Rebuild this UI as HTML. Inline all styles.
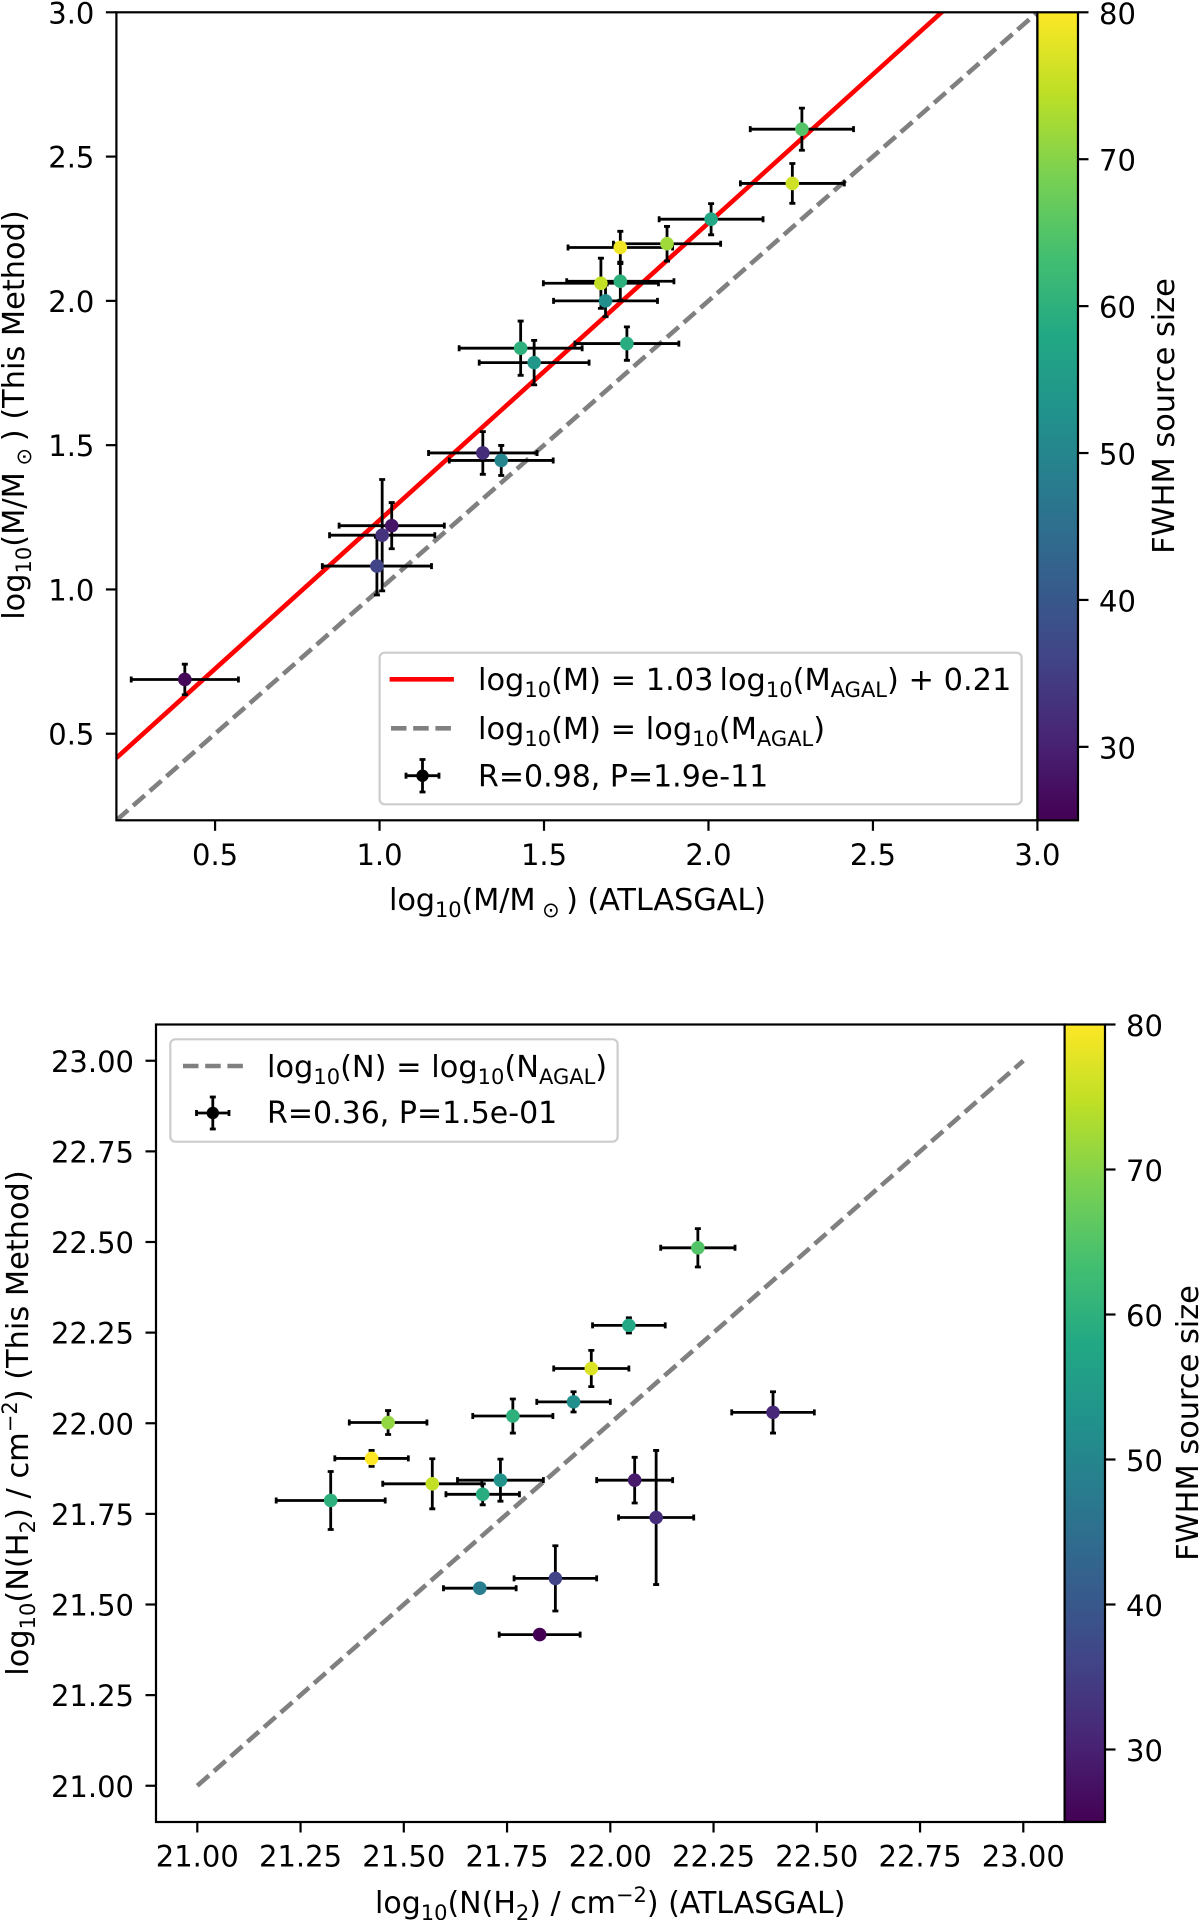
<!DOCTYPE html>
<html lang="en">
<head>
<meta charset="utf-8">
<title>Mass and column density comparison with ATLASGAL</title>
<style>
html,body{margin:0;padding:0;background:#fff;}
svg{display:block;}
text{font-family:"DejaVu Sans","Liberation Sans",sans-serif;font-size:29px;fill:#000;}
text.big{font-size:30.4px;}
text.mid{font-size:30px;}
</style>
</head>
<body>
<svg id="figure" xmlns="http://www.w3.org/2000/svg" width="1200" height="1920" viewBox="0 0 1200 1920">
  <defs>
    <clipPath id="clip-top"><rect x="116" y="12.3" width="921.4" height="808"/></clipPath>
    <clipPath id="clip-bottom"><rect x="156" y="1024.5" width="908.6" height="797.5"/></clipPath>
    <linearGradient id="viridis-gradient" x1="0" y1="1" x2="0" y2="0"></linearGradient>
  </defs>
  <rect x="0" y="0" width="1200" height="1920" fill="#fff"/>

  <g id="panel-top"></g>
  <g id="panel-bottom"></g>

  <!-- top panel titles -->
  <text class="big" x="389" y="910" textLength="377">log<tspan font-size="21" dy="7">10</tspan><tspan dy="-7">(M/M</tspan><tspan font-size="21" dy="7"> ⊙ </tspan><tspan dy="-7">) (ATLASGAL)</tspan></text>
  <text class="big" transform="translate(24,415) rotate(-90)" text-anchor="middle">log<tspan font-size="21" dy="7">10</tspan><tspan dy="-7">(M/M</tspan><tspan font-size="21" dy="7"> ⊙ </tspan><tspan dy="-7">) (This Method)</tspan></text>
  <text class="big" transform="translate(1174,416) rotate(-90)" text-anchor="middle">FWHM source size</text>

  <!-- top panel legend -->
  <g>
    <rect x="379.6" y="652.7" width="642" height="151.6" rx="5" fill="#fff" fill-opacity="0.8" stroke="#ccc" stroke-width="2.2"/>
    <line x1="389.6" y1="679.3" x2="453.9" y2="679.3" stroke="#f00" stroke-width="4.6"/>
    <line x1="391" y1="728.3" x2="453.9" y2="728.3" stroke="#808080" stroke-width="4.6" stroke-dasharray="15.5 6.7"/>
    <g stroke="#000" stroke-width="2.8">
      <line x1="406" y1="775.7" x2="439" y2="775.7"/><line x1="422.5" y1="759.5" x2="422.5" y2="792"/>
      <line x1="406" y1="772.7" x2="406" y2="778.7"/><line x1="439" y1="772.7" x2="439" y2="778.7"/>
      <line x1="419.5" y1="759.5" x2="425.5" y2="759.5"/><line x1="419.5" y1="792" x2="425.5" y2="792"/>
      <circle cx="422.5" cy="775.7" r="6.2" fill="#000" stroke="none"/>
    </g>
    <text class="big" x="478" y="690">log<tspan font-size="21" dy="7">10</tspan><tspan dy="-7">(M) = 1.03&#8201;log</tspan><tspan font-size="21" dy="7">10</tspan><tspan dy="-7">(M</tspan><tspan font-size="21" dy="7">AGAL</tspan><tspan dy="-7">) + 0.21</tspan></text>
    <text class="big" x="478" y="739">log<tspan font-size="21" dy="7">10</tspan><tspan dy="-7">(M) = log</tspan><tspan font-size="21" dy="7">10</tspan><tspan dy="-7">(M</tspan><tspan font-size="21" dy="7">AGAL</tspan><tspan dy="-7">)</tspan></text>
    <text class="mid" x="478" y="786.7">R=0.98, P=1.9e-11</text>
  </g>

  <!-- bottom panel titles -->
  <text class="mid" x="375" y="1913">log<tspan font-size="21" dy="7">10</tspan><tspan dy="-7">(N(H</tspan><tspan font-size="21" dy="7">2</tspan><tspan dy="-7">) / cm</tspan><tspan font-size="21" dy="-11">−2</tspan><tspan dy="11">) (ATLASGAL)</tspan></text>
  <text class="big" transform="translate(28,1423) rotate(-90)" text-anchor="middle">log<tspan font-size="21" dy="7">10</tspan><tspan dy="-7">(N(H</tspan><tspan font-size="21" dy="7">2</tspan><tspan dy="-7">) / cm</tspan><tspan font-size="21" dy="-11">−2</tspan><tspan dy="11">) (This Method)</tspan></text>
  <text class="big" transform="translate(1198,1423) rotate(-90)" text-anchor="middle">FWHM source size</text>

  <!-- bottom panel legend -->
  <g>
    <rect x="170.3" y="1039.3" width="447.3" height="102.4" rx="5" fill="#fff" fill-opacity="0.8" stroke="#ccc" stroke-width="2.2"/>
    <line x1="183" y1="1066" x2="243" y2="1066" stroke="#808080" stroke-width="4.6" stroke-dasharray="15.5 6.7"/>
    <g stroke="#000" stroke-width="2.8">
      <line x1="196.5" y1="1113" x2="229" y2="1113"/><line x1="212.8" y1="1097" x2="212.8" y2="1129"/>
      <line x1="196.5" y1="1110" x2="196.5" y2="1116"/><line x1="229" y1="1110" x2="229" y2="1116"/>
      <line x1="209.8" y1="1097" x2="215.8" y2="1097"/><line x1="209.8" y1="1129" x2="215.8" y2="1129"/>
      <circle cx="212.8" cy="1113" r="6.2" fill="#000" stroke="none"/>
    </g>
    <text class="big" x="267" y="1077">log<tspan font-size="21" dy="7">10</tspan><tspan dy="-7">(N) = log</tspan><tspan font-size="21" dy="7">10</tspan><tspan dy="-7">(N</tspan><tspan font-size="21" dy="7">AGAL</tspan><tspan dy="-7">)</tspan></text>
    <text class="mid" x="267" y="1123">R=0.36, P=1.5e-01</text>
  </g>
</svg>

<script>
// ---- top panel data: log10 mass ----
var massX    = [2.284,2.255,2.008,1.874,1.732,1.673,1.732,1.687,1.752,1.429,1.470,1.314,1.370,1.037,1.008,0.992,0.408];
var massY    = [2.595,2.407,2.283,2.198,2.185,2.061,2.068,2.000,1.852,1.836,1.786,1.473,1.447,1.221,1.188,1.081,0.688];
var massXErr = [0.157,0.158,0.158,0.163,0.159,0.175,0.163,0.158,0.158,0.187,0.167,0.165,0.158,0.160,0.160,0.166,0.163];
var massYErr = [0.073,0.069,0.054,0.060,0.056,0.087,0.066,0.055,0.058,0.094,0.077,0.074,0.052,0.080,0.193,0.100,0.053];
var massFwhm = [65,76,58,72,79,75,60,52,59,60,54,32,50,28,33,36,26];
var massTicks = ["0.5","1.0","1.5","2.0","2.5","3.0"];
var fitSlope = [1.03];
var fitIntercept = [0.21];
var massLineEnds = [0.2,3.0];

// ---- bottom panel data: log10 column density ----
var densX    = [22.212,22.045,21.954,21.911,21.764,21.462,22.394,21.422,21.569,21.734,21.691,21.323,22.059,22.111,21.684,21.867,21.829];
var densY    = [22.484,22.270,22.151,22.059,22.020,22.002,22.030,21.903,21.833,21.843,21.804,21.787,21.843,21.740,21.545,21.572,21.417];
var densXErr = [0.090,0.088,0.091,0.089,0.097,0.094,0.100,0.089,0.120,0.104,0.089,0.132,0.092,0.091,0.088,0.100,0.098];
var densYErr = [0.053,0.021,0.050,0.028,0.047,0.033,0.057,0.022,0.069,0.058,0.029,0.080,0.063,0.185,0.005,0.090,0.005];
var densFwhm = [65,58,77,52,60,71,31,80,75,53,59,60,29,32,48,36,25];
var densTicks = ["21.00","21.25","21.50","21.75","22.00","22.25","22.50","22.75","23.00"];
var densLineEnds = [21,23];

// ---- colorbar ----
var colorbarTicks = ["30","40","50","60","70","80"];
var colorbarRange = [25,80];
var viridisStops = ["#440154","#482475","#414487","#355f8d","#2a788e","#21918c","#22a884","#44bf70","#7ad151","#bddf26","#fde725"];

var NS = "http://www.w3.org/2000/svg";
function make(parent, tag, attrs, txt) {
  var el = document.createElementNS(NS, tag);
  for (var k in attrs) el.setAttribute(k, attrs[k]);
  if (txt !== undefined) el.textContent = txt;
  parent.appendChild(el);
  return el;
}
function hexToRgb(h) {
  return [parseInt(h.slice(1,3),16),parseInt(h.slice(3,5),16),parseInt(h.slice(5,7),16)];
}
function viridis(t) {
  t = Math.max(0, Math.min(1, t));
  var p = t * (viridisStops.length - 1), i = Math.min(Math.floor(p), viridisStops.length - 2), f = p - i;
  var a = hexToRgb(viridisStops[i]), b = hexToRgb(viridisStops[i + 1]);
  return "rgb(" + Math.round(a[0]+(b[0]-a[0])*f) + "," + Math.round(a[1]+(b[1]-a[1])*f) + "," + Math.round(a[2]+(b[2]-a[2])*f) + ")";
}
var gradient = document.getElementById("viridis-gradient");
viridisStops.forEach(function (c, i) {
  make(gradient, "stop", { offset: i / (viridisStops.length - 1), "stop-color": c });
});

function drawPanel(cfg) {
  var g = document.getElementById(cfg.groupId);
  var sx = function (v) { return cfg.left + (v - cfg.xlim[0]) / (cfg.xlim[1] - cfg.xlim[0]) * (cfg.right - cfg.left); };
  var sy = function (v) { return cfg.bottom - (v - cfg.ylim[0]) / (cfg.ylim[1] - cfg.ylim[0]) * (cfg.bottom - cfg.top); };
  var sc = function (v) { return cfg.bottom - (v - colorbarRange[0]) / (colorbarRange[1] - colorbarRange[0]) * (cfg.bottom - cfg.top); };
  var plot = make(g, "g", { "clip-path": "url(#" + cfg.clip + ")" });
  
  

  if (cfg.fit) {
    var x0 = cfg.lineEnds[0], x1 = cfg.lineEnds[1];
    var fitLine = make(plot, "line", {
      x1: sx(x0), y1: sy(fitSlope[0] * x0 + fitIntercept[0]),
      x2: sx(x1), y2: sy(fitSlope[0] * x1 + fitIntercept[0]),
      stroke: "#f00", "stroke-width": 4.6
    });
    
    
  }
  var eq = make(plot, "line", {
    x1: sx(cfg.lineEnds[0]), y1: sy(cfg.lineEnds[0]),
    x2: sx(cfg.lineEnds[1]), y2: sy(cfg.lineEnds[1]),
    stroke: "#808080", "stroke-width": 4.6, "stroke-dasharray": "15.5 6.7"
  });
  
  

  cfg.x.forEach(function (xv, i) {
    var px = sx(xv), py = sy(cfg.y[i]);
    var xa = sx(xv - cfg.xe[i]), xb = sx(xv + cfg.xe[i]);
    var ya = sy(cfg.y[i] - cfg.ye[i]), yb = sy(cfg.y[i] + cfg.ye[i]);
    var bar = make(plot, "path", {
      d: "M" + xa + " " + py + "H" + xb + "M" + px + " " + ya + "V" + yb +
         "M" + xa + " " + (py - 3) + "v6M" + xb + " " + (py - 3) + "v6" +
         "M" + (px - 3) + " " + ya + "h6M" + (px - 3) + " " + yb + "h6",
      fill: "none", stroke: "#000", "stroke-width": 2.8
    });
    
    
  });
  cfg.x.forEach(function (xv, i) {
    var dot = make(plot, "circle", {
      cx: sx(xv), cy: sy(cfg.y[i]), r: 6.8,
      fill: viridis((cfg.c[i] - colorbarRange[0]) / (colorbarRange[1] - colorbarRange[0]))
    });
    
    
  });

  // axes frame
  var frame = make(g, "rect", { x: cfg.left, y: cfg.top, width: cfg.right - cfg.left, height: cfg.bottom - cfg.top, fill: "none", stroke: "#000", "stroke-width": 2.2 });
  
  

  // x ticks
  cfg.ticks.forEach(function (t) {
    var v = parseFloat(t);
    var tk = make(g, "line", { x1: sx(v), x2: sx(v), y1: cfg.bottom, y2: cfg.bottom + 10.5, stroke: "#000", "stroke-width": 2.2 });
    
    
    var lb = make(g, "text", { x: sx(v), y: cfg.bottom + 44.5, "text-anchor": "middle" }, t);
    
    
  });
  // y ticks
  cfg.ticks.forEach(function (t) {
    var v = parseFloat(t);
    var tk = make(g, "line", { x1: cfg.left - 10.5, x2: cfg.left, y1: sy(v), y2: sy(v), stroke: "#000", "stroke-width": 2.2 });
    
    
    var lb = make(g, "text", { x: cfg.left - 22, y: sy(v) + 11, "text-anchor": "end" }, t);
    
    
  });

  // colorbar
  var bar = make(g, "rect", { x: cfg.right, y: cfg.top, width: cfg.cbRight - cfg.right, height: cfg.bottom - cfg.top, fill: "url(#viridis-gradient)", stroke: "#000", "stroke-width": 2.2 });
  
  
  colorbarTicks.forEach(function (t) {
    var v = parseFloat(t);
    var tk = make(g, "line", { x1: cfg.cbRight, x2: cfg.cbRight + 10.5, y1: sc(v), y2: sc(v), stroke: "#000", "stroke-width": 2.2 });
    
    
    var lb = make(g, "text", { x: cfg.cbRight + 21, y: sc(v) + 11.5 }, t);
    
    
  });
}

drawPanel({
  groupId: "panel-top", clip: "clip-top",
  left: 116.4, right: 1037.4, top: 12.3, bottom: 820.3,
  xlim: [0.2, 3.0], ylim: [0.2, 3.0], cbRight: 1078,
  x: massX, y: massY, xe: massXErr, ye: massYErr, c: massFwhm,
  ticks: massTicks, lineEnds: massLineEnds, fit: true
});
drawPanel({
  groupId: "panel-bottom", clip: "clip-bottom",
  left: 156, right: 1064.6, top: 1024.5, bottom: 1822,
  xlim: [20.9, 23.1], ylim: [20.9, 23.1], cbRight: 1105,
  x: densX, y: densY, xe: densXErr, ye: densYErr, c: densFwhm,
  ticks: densTicks, lineEnds: densLineEnds, fit: false
});
</script>
</body>
</html>
